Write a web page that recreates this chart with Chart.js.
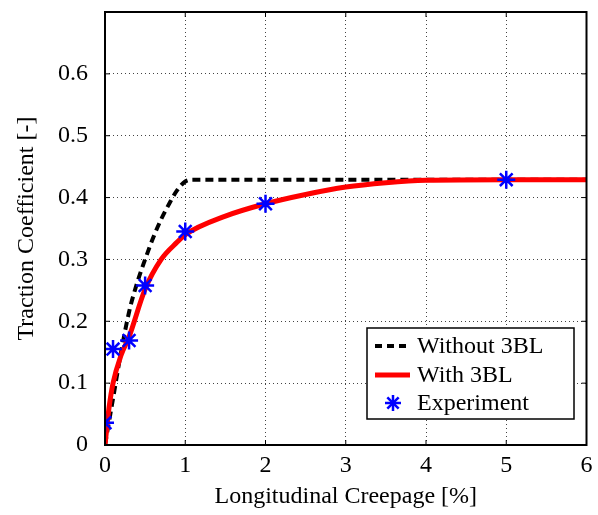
<!DOCTYPE html>
<html>
<head>
<meta charset="utf-8">
<script src="https://cdn.jsdelivr.net/npm/chart.js@4"></script>
<style>
  html, body { margin: 0; padding: 0; background: #fff; }
  #wrap { width: 598px; height: 515px; }
</style>
</head>
<body>
<div id="wrap"><canvas id="traction-chart" width="598" height="515"></canvas></div>
<script>
// datos
const without3blX = [0, 0.1, 0.2, 0.3, 0.4, 0.5, 0.6, 0.7, 0.8, 0.9, 1.0, 1.1, 2, 3, 4, 5, 6];
const without3blY = [0, 0.075, 0.15, 0.215, 0.262, 0.3, 0.335, 0.365, 0.39, 0.412, 0.426, 0.429, 0.429, 0.429, 0.429, 0.429, 0.429];

const with3blX = [0, 0.05, 0.1, 0.2, 0.3, 0.5, 0.7, 0.9, 1.0, 1.5, 2, 2.5, 3, 3.5, 4, 5, 6];
const with3blY = [0, 0.06, 0.1, 0.145, 0.175, 0.252, 0.3, 0.328, 0.34, 0.37, 0.39, 0.405, 0.417, 0.424, 0.428, 0.429, 0.429];

const experimentX = [0, 0.1, 0.3, 0.5, 1, 2, 5];
const experimentY = [0.036, 0.155, 0.169, 0.258, 0.345, 0.39, 0.429];

const xTicks = [0, 1, 2, 3, 4, 5, 6];
const yTicks = [0, 0.1, 0.2, 0.3, 0.4, 0.5, 0.6, 0.7];

const labels = ['Without 3BL', 'With 3BL', 'Experiment'];

function toPoints(xs, ys) {
    return xs.map((x, i) => ({ x: x, y: ys[i] }));
}

const FONT = '"Liberation Serif", "Times New Roman", serif';

// caja del eje, ticks hacia dentro y leyenda estilo MATLAB
const boxPlugin = {
    id: 'boxPlugin',
    afterDraw(chart) {
        const ctx = chart.ctx;
        const a = chart.chartArea;
        const xs = chart.scales.x, ys = chart.scales.y;
        ctx.save();
        ctx.strokeStyle = '#000';
        ctx.lineWidth = 2;
        ctx.strokeRect(a.left, a.top, a.right - a.left, a.bottom - a.top);
        ctx.lineWidth = 1;
        xTicks.forEach(t => {
            const px = xs.getPixelForValue(t);
            ctx.beginPath();
            ctx.moveTo(px, a.bottom); ctx.lineTo(px, a.bottom - 5);
            ctx.moveTo(px, a.top); ctx.lineTo(px, a.top + 5);
            ctx.stroke();
        });
        yTicks.forEach(t => {
            const py = ys.getPixelForValue(t);
            ctx.beginPath();
            ctx.moveTo(a.left, py); ctx.lineTo(a.left + 5, py);
            ctx.moveTo(a.right, py); ctx.lineTo(a.right - 5, py);
            ctx.stroke();
        });

        // leyenda
        const lx = 367, ly = 328, lw = 207, lh = 91;
        ctx.fillStyle = '#fff';
        ctx.fillRect(lx, ly, lw, lh);
        ctx.strokeStyle = '#000';
        ctx.lineWidth = 1.5;
        ctx.strokeRect(lx, ly, lw, lh);
        ctx.font = '24px ' + FONT;
        ctx.textBaseline = 'middle';
        ctx.textAlign = 'left';
        const rowY = [ly + 18, ly + 47, ly + 75];
        chart.data.datasets.forEach((ds, i) => {
            const y = rowY[i];
            if (i === 0) {
                ctx.strokeStyle = '#000';
                ctx.lineWidth = 4;
                ctx.setLineDash([7, 5]);
                ctx.beginPath(); ctx.moveTo(375, y); ctx.lineTo(410, y); ctx.stroke();
                ctx.setLineDash([]);
            } else if (i === 1) {
                ctx.strokeStyle = '#ff0000';
                ctx.lineWidth = 5;
                ctx.beginPath(); ctx.moveTo(375, y); ctx.lineTo(410, y); ctx.stroke();
            } else {
                ctx.strokeStyle = '#0000ff';
                ctx.lineWidth = 2.5;
                for (let k = 0; k < 4; k++) {
                    const ang = k * Math.PI / 4;
                    ctx.beginPath();
                    ctx.moveTo(393 - 8 * Math.cos(ang), y - 8 * Math.sin(ang));
                    ctx.lineTo(393 + 8 * Math.cos(ang), y + 8 * Math.sin(ang));
                    ctx.stroke();
                }
            }
            ctx.fillStyle = '#000';
            ctx.fillText(ds.label, 417, y + 1);
        });
        ctx.restore();
    }
};

const config = {
    type: 'scatter',
    data: {
        datasets: [
            {
                label: labels[0],
                data: toPoints(without3blX, without3blY),
                showLine: true,
                borderColor: '#000',
                borderWidth: 4,
                borderDash: [8, 5],
                pointRadius: 0,
                cubicInterpolationMode: 'monotone',
                order: 3
            },
            {
                label: labels[1],
                data: toPoints(with3blX, with3blY),
                showLine: true,
                borderColor: '#ff0000',
                borderWidth: 5,
                pointRadius: 0,
                cubicInterpolationMode: 'monotone',
                order: 2
            },
            {
                label: labels[2],
                data: toPoints(experimentX, experimentY),
                showLine: false,
                pointStyle: 'star',
                pointRadius: 9,
                borderColor: '#0000ff',
                backgroundColor: '#0000ff',
                pointBorderWidth: 2.5,
                order: 1
            }
        ]
    },
    options: {
        responsive: false,
        animation: false,
        layout: { padding: { top: 12, right: 3, left: 0, bottom: 0 } },
        plugins: {
            legend: { display: false },
            tooltip: { enabled: false }
        },
        scales: {
            x: {
                type: 'linear',
                min: 0, max: 6,
                afterBuildTicks: s => { s.ticks = xTicks.map(v => ({ value: v })); },
                afterFit: s => { s.height = 70; s.paddingLeft = 0; s.paddingRight = 0; },
                grid: {
                    color: '#444',
                    lineWidth: 1,
                    drawTicks: false
                },
                border: { display: false, dash: [1, 3] },
                ticks: {
                    color: '#000',
                    padding: 6,
                    font: { family: FONT, size: 24 },
                    maxRotation: 0
                },
                title: {
                    display: true,
                    text: 'Longitudinal Creepage [%]',
                    color: '#000',
                    font: { family: FONT, size: 24 },
                    padding: { top: 2 }
                }
            },
            y: {
                type: 'linear',
                min: 0, max: 0.7,
                afterBuildTicks: s => { s.ticks = yTicks.map(v => ({ value: v })); },
                afterFit: s => { s.width = 105; s.paddingTop = 0; s.paddingBottom = 0; },
                grid: {
                    color: '#444',
                    lineWidth: 1,
                    drawTicks: false
                },
                border: { display: false, dash: [1, 3] },
                ticks: {
                    color: '#000',
                    padding: 17,
                    font: { family: FONT, size: 24 },
                    callback: v => (v >= 0.65 ? '' : (v === 0 ? '0' : v.toFixed(1)))
                },
                title: {
                    display: true,
                    text: 'Traction Coefficient [-]',
                    color: '#000',
                    font: { family: FONT, size: 24 },
                    padding: { top: 12, bottom: 0 }
                }
            }
        }
    },
    plugins: [boxPlugin]
};

new Chart(document.getElementById('traction-chart'), config);
</script>
</body>
</html>
